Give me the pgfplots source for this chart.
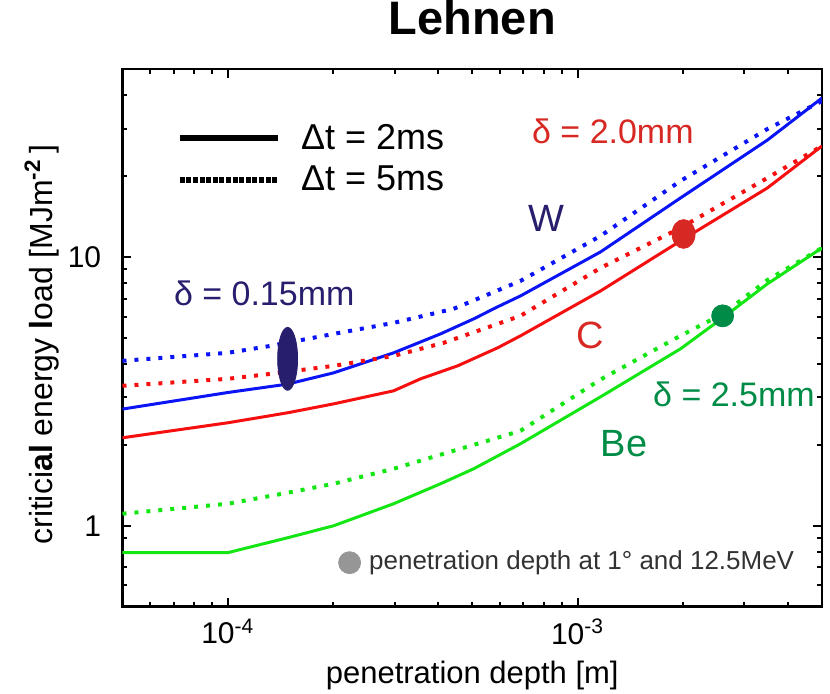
\documentclass[border=0pt]{standalone}
\usepackage{pgfplots}
\pgfplotsset{compat=1.18}
\usepackage{fontspec}
\setmainfont{Liberation Sans}
\definecolor{navyE}{RGB}{40,30,110}
\definecolor{redD}{RGB}{215,40,35}
\definecolor{greenD}{RGB}{0,140,70}
\definecolor{lineB}{RGB}{10,20,245}
\definecolor{lineR}{RGB}{245,15,15}
\definecolor{lineG}{RGB}{20,230,20}
\definecolor{grayD}{RGB}{150,150,150}
\definecolor{txtG}{RGB}{50,50,50}
\begin{document}
\begin{tikzpicture}
\begin{axis}[
 xmode=log, ymode=log,
 scale only axis, width=350pt, height=269pt,
 xmin=5e-5, xmax=5e-3, ymin=0.5, ymax=50,
 xtick={1e-4,1e-3}, xticklabels={10\textsuperscript{-4},10\textsuperscript{-3}},
 ytick={1,10}, yticklabels={1,10},
 minor xtick={6e-5,7e-5,8e-5,9e-5,2e-4,3e-4,4e-4,5e-4,6e-4,7e-4,8e-4,9e-4,2e-3,3e-3,4e-3},
 minor ytick={0.6,0.7,0.8,0.9,2,3,4,5,6,7,8,9,20,30,40},
 major tick length=4.5pt, minor tick length=2.5pt,
 every tick/.style={black, line width=1pt},
 axis line style={line width=1.4pt},
 tick label style={font=\fontsize{15}{17}\selectfont},
 yticklabel style={anchor=east, inner sep=0pt, xshift=-10.5pt},
 xticklabel style={anchor=north, inner sep=0pt, yshift=-6pt},
 xlabel={penetration depth [m]},
 xlabel style={font=\fontsize{15.5}{18}\selectfont, at={(axis description cs:0.5,-0.1437)}, anchor=base, inner sep=0pt},
 ylabel={critici\textbf{a}\textbf{l} energy \textbf{l}oad [MJm\textsuperscript{\textbf{-2}}\,]},
 ylabel style={font=\fontsize{16}{19}\selectfont, at={(axis description cs:-0.10,0.487)}, anchor=base, inner sep=0pt},
 title={Lehnen},
 title style={font=\bfseries\fontsize{23.5}{27}\selectfont, at={(axis description cs:0.5,1.0428)}, anchor=base, inner sep=0pt},
 legend style={draw=none, fill=none, inner sep=0pt, outer sep=0pt,
   at={(axis description cs:0.0773,0.833)}, anchor=west,
   font=\fontsize{18}{21}\selectfont, row sep=7pt,
   nodes={inner sep=0pt},
   /tikz/every odd column/.append style={column sep=10pt}},
 legend cell align=left,
 legend image code/.code={\draw[#1] (0pt,0pt) -- (49pt,0pt);},
]
\addlegendimage{black, line width=3.3pt}
\addlegendentry{Δt = 2ms}
\addlegendimage{black, line width=2.8pt, dash pattern=on 2.5pt off 0.8pt}
\addlegendentry{Δt = 5ms}

% W, 2 ms
\addplot[lineB, line width=1.5pt, forget plot] coordinates {
(5e-5,2.716) (1e-4,3.13) (1.483e-4,3.364) (2.01e-4,3.706) (2.98e-4,4.397) (4.06e-4,5.173)
(5.05e-4,5.883) (5.91e-4,6.521) (6.87e-4,7.161) (1.164e-3,10.44) (1.97e-3,16.57) (3.49e-3,27.2) (5e-3,39.0)};
% W, 5 ms
\addplot[lineB, line width=2pt, dash pattern=on 2pt off 4pt, forget plot] coordinates {
(5e-5,4.106) (1e-4,4.397) (1.327e-4,4.668) (2.01e-4,5.173) (2.98e-4,5.684) (4.42e-4,6.41)
(6.87e-4,8.14) (1.164e-3,11.97) (1.97e-3,19.17) (3.49e-3,29.9) (5e-3,38.0)};
% C, 2 ms
\addplot[lineR, line width=1.5pt, forget plot] coordinates {
(5e-5,2.124) (1e-4,2.415) (1.483e-4,2.631) (2.01e-4,2.841) (2.98e-4,3.176) (3.56e-4,3.52)
(4.54e-4,3.933) (5.91e-4,4.59) (6.87e-4,5.086) (1.164e-3,7.474) (1.97e-3,11.47) (3.49e-3,18.05) (5e-3,25.86)};
% C, 5 ms
\addplot[lineR, line width=2pt, dash pattern=on 2pt off 4pt, forget plot] coordinates {
(5e-5,3.315) (1e-4,3.52) (1.327e-4,3.673) (2.01e-4,3.933) (2.98e-4,4.285) (4.14e-4,4.789)
(6.87e-4,6.036) (1.164e-3,9.10) (1.97e-3,12.82) (3.49e-3,19.67) (5e-3,25.86)};
% Be, 2 ms
\addplot[lineG, line width=1.5pt, forget plot] coordinates {
(5e-5,0.794) (1e-4,0.794) (1.483e-4,0.902) (2.01e-4,1.0) (2.98e-4,1.207) (4.06e-4,1.433)
(5.05e-4,1.629) (6.87e-4,2.018) (1.164e-3,3.017) (1.97e-3,4.55) (2.6e-3,5.93) (3.49e-3,7.94) (5e-3,10.8)};
% Be, 5 ms
\addplot[lineG, line width=2pt, dash pattern=on 2pt off 4pt, forget plot] coordinates {
(5e-5,1.108) (1e-4,1.207) (1.483e-4,1.326) (2.01e-4,1.433) (2.98e-4,1.629) (4.42e-4,1.90)
(5.53e-4,2.07) (6.87e-4,2.255) (1.164e-3,3.5) (1.97e-3,5.09) (2.6e-3,6.13) (3.49e-3,8.2) (5e-3,10.8)};

% penetration depth markers
\addplot[only marks, mark=*, mark size=15.75pt, mark options={xscale=0.317, fill=navyE, draw=navyE}, forget plot]
 coordinates {(1.483e-4,4.177)};
\addplot[only marks, mark=*, mark size=7.2pt, mark options={xscale=0.8, fill=redD, draw=redD}, forget plot]
 coordinates {(2.01e-3,12.17)};
\addplot[only marks, mark=*, mark size=5.5pt, mark options={fill=greenD, draw=greenD}, forget plot]
 coordinates {(2.6e-3,6.036)};
\addplot[only marks, mark=*, mark size=5.5pt, mark options={fill=grayD, draw=grayD}, forget plot]
 coordinates {(2.23e-4,0.7287)};

\node[navyE, font=\fontsize{17}{20}\selectfont] at (axis cs:1.271e-4,7.35) {δ = 0.15mm};
\node[navyE, font=\fontsize{19}{22}\selectfont] at (axis cs:8.15e-4,13.96) {W};
\node[redD, font=\fontsize{17}{20}\selectfont] at (axis cs:1.262e-3,29.4) {δ = 2.0mm};
\node[redD, font=\fontsize{19}{22}\selectfont] at (axis cs:1.087e-3,5.09) {C};
\node[greenD, font=\fontsize{17}{20}\selectfont] at (axis cs:2.80e-3,3.09) {δ = 2.5mm};
\node[greenD, font=\fontsize{19}{22}\selectfont] at (axis cs:1.358e-3,2.018) {Be};
\node[txtG, anchor=west, font=\fontsize{13}{15}\selectfont, inner sep=0pt] at (axis cs:2.53e-4,0.7287) {penetration depth at 1° and 12.5MeV};
\end{axis}
\path ([shift={(-61.3pt,-43.5pt)}]current axis.south west) rectangle ([shift={(4pt,34pt)}]current axis.north east);
\end{tikzpicture}
\end{document}
